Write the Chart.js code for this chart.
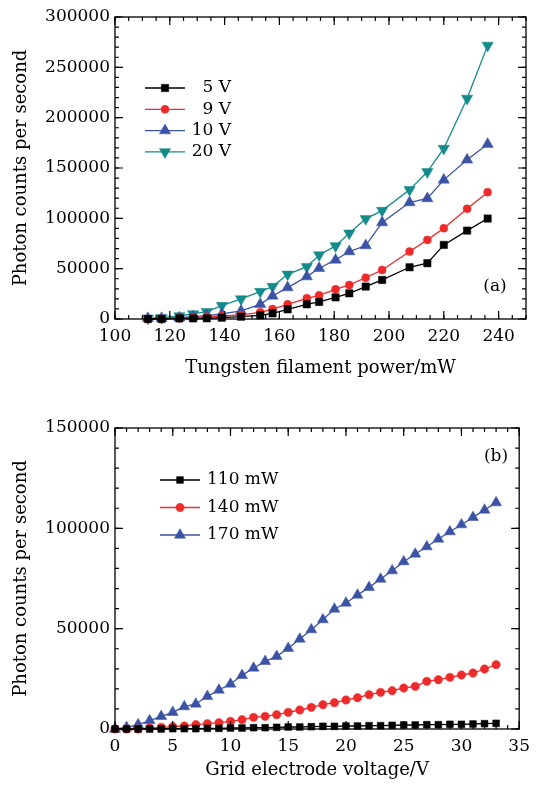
<!DOCTYPE html>
<html>
<head>
<meta charset="utf-8">
<script src="https://cdn.jsdelivr.net/npm/chart.js@4/dist/chart.umd.min.js"></script>
<style>
  body { margin: 0; background: #fff; }
  canvas { display: block; }
</style>
</head>
<body>
<canvas id="chart-a" width="537" height="395"></canvas>
<canvas id="chart-b" width="537" height="390"></canvas>
<script>
// (a) photon counts vs tungsten filament power
const powerMW = [112, 117, 123.5, 128.5, 133.5, 139, 146, 153, 157.5, 163, 170, 174.5, 180.5, 185.5, 191.5, 197.5, 207.5, 214, 220, 228.5, 236];
const counts5V = [0, 0, 600, 600, 700, 1300, 2300, 3600, 5600, 9600, 14600, 16900, 21500, 25500, 32200, 38800, 51400, 55400, 73600, 87800, 99800];
const counts9V = [0, 300, 600, 1300, 2300, 3000, 4000, 6600, 9900, 14600, 20600, 23500, 29500, 33800, 41100, 48700, 67000, 78600, 90200, 109400, 126000];
const counts10V = [700, 700, 1300, 2300, 3300, 5000, 8000, 14600, 22900, 31200, 42100, 50400, 58700, 67000, 73000, 95800, 115700, 119700, 138200, 158100, 173700];
const counts20V = [700, 1300, 3000, 5000, 7300, 13300, 19900, 27200, 32200, 44400, 52000, 63600, 72600, 85200, 99500, 107700, 128300, 146200, 169400, 219100, 271800];

// (b) photon counts vs grid electrode voltage
const gridVoltage = [0, 1, 2, 3, 4, 5, 6, 7, 8, 9, 10, 11, 12, 13, 14, 15, 16, 17, 18, 19, 20, 21, 22, 23, 24, 25, 26, 27, 28, 29, 30, 31, 32, 33];
const counts110 = [0, 0, 0, 0, 0, 170, 170, 170, 330, 330, 500, 500, 660, 660, 830, 1000, 1000, 1160, 1330, 1330, 1500, 1500, 1660, 1660, 1830, 2000, 2000, 2160, 2160, 2330, 2330, 2490, 2660, 2820];
const counts140 = [0, 0, 0, 500, 830, 1160, 1490, 2160, 2660, 3160, 3820, 4650, 5810, 6310, 7140, 8300, 9470, 10800, 12120, 13120, 14450, 15610, 17110, 18270, 19100, 20430, 21260, 23750, 24580, 25750, 26910, 27900, 29900, 32060];
const counts170 = [0, 830, 2160, 4150, 6310, 8300, 11130, 12460, 16280, 19440, 22420, 26740, 30390, 33710, 36200, 40190, 44840, 49490, 54480, 59790, 62780, 66770, 70590, 74740, 78890, 83380, 87200, 90850, 94670, 98330, 101810, 105470, 109130, 112790];

const FONT = 'DejaVu Serif';
const RED = '#ee2a2a', BLUE = '#3a53a4', TEAL = '#148a8a';

function pts(xs, ys) {
  return xs.map((x, i) => ({ x: x, y: ys[i] }));
}

function series(label, xs, ys, color, style, radius, rotation) {
  return {
    label: label,
    data: pts(xs, ys),
    borderColor: color,
    backgroundColor: color,
    borderWidth: 1.3,
    pointStyle: style,
    pointRadius: radius,
    pointRotation: rotation || 0,
    pointBorderWidth: 0.5,
    pointBorderColor: color,
    pointBackgroundColor: color,
    clip: false,
  };
}

// frame with inward ticks on all four sides, plus legend and panel tag
function makeFrame(f) {
  return {
    id: 'frameTicks',
    afterDraw(chart) {
      const { ctx, chartArea: a, scales: { x, y } } = chart;
      ctx.save();
      ctx.strokeStyle = '#000';
      ctx.lineWidth = 1.3;
      ctx.strokeRect(a.left, a.top, a.width, a.height);
      const mark = (scale, step, len) => {
        for (let v = scale.min; v <= scale.max + 1e-6; v += step) {
          const p = scale.getPixelForValue(v);
          ctx.beginPath();
          if (scale.isHorizontal()) {
            ctx.moveTo(p, a.bottom); ctx.lineTo(p, a.bottom - len);
            ctx.moveTo(p, a.top); ctx.lineTo(p, a.top + len);
          } else {
            ctx.moveTo(a.left, p); ctx.lineTo(a.left + len, p);
            ctx.moveTo(a.right, p); ctx.lineTo(a.right - len, p);
          }
          ctx.stroke();
        }
      };
      ctx.lineWidth = 1.2;
      mark(x, f.xMinor, 4);
      mark(x, f.xMajor, 8);
      mark(y, f.yMinor, 4);
      mark(y, f.yMajor, 8);

      // legend
      const L = f.legend;
      ctx.font = '17px "' + FONT + '"';
      ctx.textBaseline = 'middle';
      chart.data.datasets.forEach((ds, i) => {
        const yy = L.y + i * L.dy;
        ctx.strokeStyle = ds.borderColor;
        ctx.fillStyle = ds.borderColor;
        ctx.lineWidth = 1.3;
        ctx.beginPath();
        ctx.moveTo(L.x0, yy); ctx.lineTo(L.x1, yy);
        ctx.stroke();
        ctx.lineWidth = 0.5;
        Chart.helpers.drawPoint(ctx, {
          pointStyle: ds.pointStyle, radius: ds.pointRadius,
          rotation: ds.pointRotation, borderWidth: 0.5
        }, (L.x0 + L.x1) / 2, yy);
        ctx.fillStyle = '#000';
        ctx.textAlign = L.align;
        ctx.fillText(ds.label, L.tx, yy);
      });

      ctx.textAlign = 'center';
      ctx.fillText(f.tag.text, f.tag.x, f.tag.y);
      ctx.restore();
    }
  };
}

function options(cfg) {
  const tickFont = { family: FONT, size: 17 };
  return {
    responsive: false,
    animation: false,
    layout: { padding: cfg.padding },
    plugins: {
      legend: { display: false },
      tooltip: { enabled: false },
    },
    scales: {
      x: {
        type: 'linear',
        min: cfg.xMin, max: cfg.xMax,
        grid: { display: false, drawTicks: false },
        border: { display: false },
        ticks: { stepSize: cfg.frame.xMajor, includeBounds: false, padding: 7, color: '#000', font: tickFont, callback: v => String(v) },
        afterBuildTicks: s => { s.ticks = s.ticks.filter(t => t.value % cfg.xLabelStep === 0); },
        afterFit: s => { s.height = cfg.xHeight; },
        title: { display: true, text: cfg.xTitle, color: '#000', font: { family: FONT, size: 18 }, padding: { top: 0, bottom: cfg.xTitlePad } },
      },
      y: {
        type: 'linear',
        min: 0, max: cfg.yMax,
        grid: { display: false, drawTicks: false },
        border: { display: false },
        ticks: { stepSize: cfg.frame.yMajor, padding: 5, color: '#000', font: tickFont, callback: v => String(v) },
        afterFit: s => { s.width = 115; },
        title: { display: true, text: 'Photon counts per second', color: '#000', font: { family: FONT, size: 18 }, padding: { top: 11, bottom: 0 } },
      },
    },
  };
}

const cfgA = {
  padding: { left: 0, right: 11, top: 17, bottom: 0 },
  xMin: 100, xMax: 250, xLabelStep: 20, xHeight: 76, xTitlePad: 16,
  xTitle: 'Tungsten filament power/mW',
  yMax: 300000,
  frame: {
    xMajor: 20, xMinor: 5, yMajor: 50000, yMinor: 10000,
    legend: { x0: 145, x1: 185, tx: 231, align: 'right', y: 88, dy: 21.3 },
    tag: { text: '(a)', x: 495, y: 287 },
  },
};

const cfgB = {
  padding: { left: 0, right: 13, top: 33, bottom: 0 },
  xMin: 0, xMax: 35, xLabelStep: 5, xHeight: 56, xTitlePad: 4,
  xTitle: 'Grid electrode voltage/V',
  yMax: 150000,
  frame: {
    xMajor: 5, xMinor: 1, yMajor: 50000, yMinor: 10000,
    legend: { x0: 160, x1: 200, tx: 207, align: 'left', y: 85, dy: 27.5 },
    tag: { text: '(b)', x: 496, y: 62 },
  },
};

new Chart(document.getElementById('chart-a'), {
  type: 'line',
  data: {
    datasets: [
      series('5 V', powerMW, counts5V, '#000', 'rect', 5.2),
      series('9 V', powerMW, counts9V, RED, 'circle', 4),
      series('10 V', powerMW, counts10V, BLUE, 'triangle', 6.5),
      series('20 V', powerMW, counts20V, TEAL, 'triangle', 6.5, 180),
    ],
  },
  options: options(cfgA),
  plugins: [makeFrame(cfgA.frame)],
});

new Chart(document.getElementById('chart-b'), {
  type: 'line',
  data: {
    datasets: [
      series('110 mW', gridVoltage, counts110, '#000', 'rect', 4.8),
      series('140 mW', gridVoltage, counts140, RED, 'circle', 4.2),
      series('170 mW', gridVoltage, counts170, BLUE, 'triangle', 6.3),
    ],
  },
  options: options(cfgB),
  plugins: [makeFrame(cfgB.frame)],
});
</script>
</body>
</html>
